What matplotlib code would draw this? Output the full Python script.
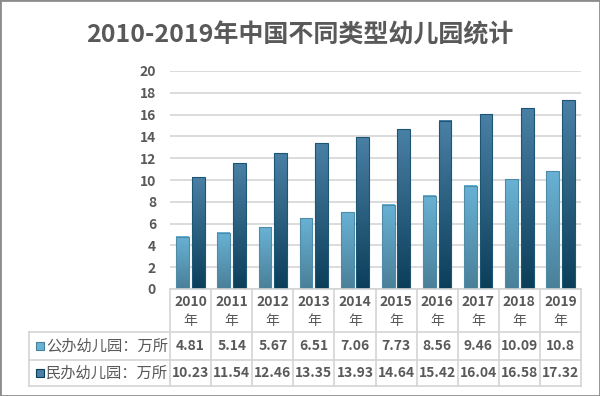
import matplotlib
matplotlib.use("Agg")
import numpy as np
import matplotlib.pyplot as plt
from matplotlib.patches import Rectangle
from matplotlib.lines import Line2D
from matplotlib.colors import LinearSegmentedColormap

plt.rcParams['font.family'] = ['Noto Sans CJK SC', 'DejaVu Sans']

# data
years = ['2010', '2011', '2012', '2013', '2014', '2015', '2016', '2017', '2018', '2019']
public = [4.81, 5.14, 5.67, 6.51, 7.06, 7.73, 8.56, 9.46, 10.09, 10.8]
private = [10.23, 11.54, 12.46, 13.35, 13.93, 14.64, 15.42, 16.04, 16.58, 17.32]
series_names = ['公办幼儿园：万所', '民办幼儿园：万所']
public_labels = ['4.81', '5.14', '5.67', '6.51', '7.06', '7.73', '8.56', '9.46', '10.09', '10.8']
private_labels = ['10.23', '11.54', '12.46', '13.35', '13.93', '14.64', '15.42', '16.04', '16.58', '17.32']
title = '2010-2019年中国不同类型幼儿园统计'

TEXT = '#595959'
GRID = '#d9d9d9'
LINE = '#d4d4d4'
W, H = 600, 396

# (top, bottom, edge)
styles = [('#68b2d5', '#4a7f98', '#4f8aa6'),
          ('#4a80a5', '#0b3e59', '#1d5574')]

fig = plt.figure(figsize=(6, 3.96), dpi=100)
ax = fig.add_axes([170 / W, 1 - 289 / H, (581 - 170) / W, (289 - 71) / H])


def fy(py):
    return 1 - py / H


def grad_bars(x, h, width, top, bottom, edge):
    cmap = LinearSegmentedColormap.from_list('g', [bottom, top])
    grad = np.linspace(0, 1, 256).reshape(-1, 1)
    bars = ax.bar(x, h, width, color='none', edgecolor=edge, linewidth=0.8, zorder=4)
    for b in bars:
        ax.imshow(grad, extent=[b.get_x(), b.get_x() + b.get_width(), 0, b.get_height()],
                  origin='lower', cmap=cmap, aspect='auto', zorder=3)
    return bars


x = np.arange(len(years))
w = 0.31
grad_bars(x - 0.19, public, w, *styles[0])
grad_bars(x + 0.19, private, w, *styles[1])

ax.set_xlim(-0.5, 9.5)
ax.set_ylim(0, 20)
ax.set_yticks(range(0, 21, 2))
ax.set_xticks([])
ax.yaxis.grid(True, color=GRID, lw=1.3)
ax.set_axisbelow(True)
for s in ax.spines.values():
    s.set_visible(False)
ax.tick_params(axis='y', length=0, pad=10, labelsize=10, labelcolor=TEXT)
for t in ax.get_yticklabels():
    t.set_fontweight('bold')

# data table under the plot
to_fig = ax.transData + fig.transFigure.inverted()


def dx(v):
    return to_fig.transform((v, 0))[0]


x0, x1 = dx(-0.5), dx(9.5)
lx = 29 / W
fig.add_artist(Line2D([x0, x1], [fy(289), fy(289)], color=LINE, lw=1.2))
for py in (332, 360, 386):
    fig.add_artist(Line2D([lx, x1], [fy(py), fy(py)], color=LINE, lw=1.2))
for i in range(len(years) + 1):
    xv = dx(i - 0.5)
    fig.add_artist(Line2D([xv, xv], [fy(289), fy(386)], color=LINE, lw=1.2))
fig.add_artist(Line2D([lx, lx], [fy(332), fy(386)], color=LINE, lw=1.2))

for i, yr in enumerate(years):
    fig.text(dx(i), fy(302), yr, ha='center', va='center', fontsize=10,
             fontweight='bold', color=TEXT)
    fig.text(dx(i), fy(321), '年', ha='center', va='center', fontsize=10,
             color=TEXT)
    fig.text(dx(i), fy(346), public_labels[i], ha='center', va='center',
             fontsize=10, fontweight='bold', color=TEXT)
    fig.text(dx(i), fy(373), private_labels[i], ha='center', va='center',
             fontsize=10, fontweight='bold', color=TEXT)

for (top, bottom, edge), name, py in zip(styles, series_names, (346, 373)):
    fig.add_artist(Rectangle((36 / W, fy(py + 4)), 8 / W, 8 / H, facecolor=top,
                             edgecolor=bottom, lw=0.8))
    fig.text(46 / W, fy(py), name, ha='left', va='center', fontsize=11,
             color=TEXT)

fig.text(0.5, fy(35), title, ha='center', va='center', fontsize=18,
         fontweight='bold', color=TEXT)
fig.add_artist(Rectangle((0, 0), 1, 1, transform=fig.transFigure, fill=False,
                         edgecolor='#8c8c8c', lw=2))

fig.savefig('out.png', dpi=100)
